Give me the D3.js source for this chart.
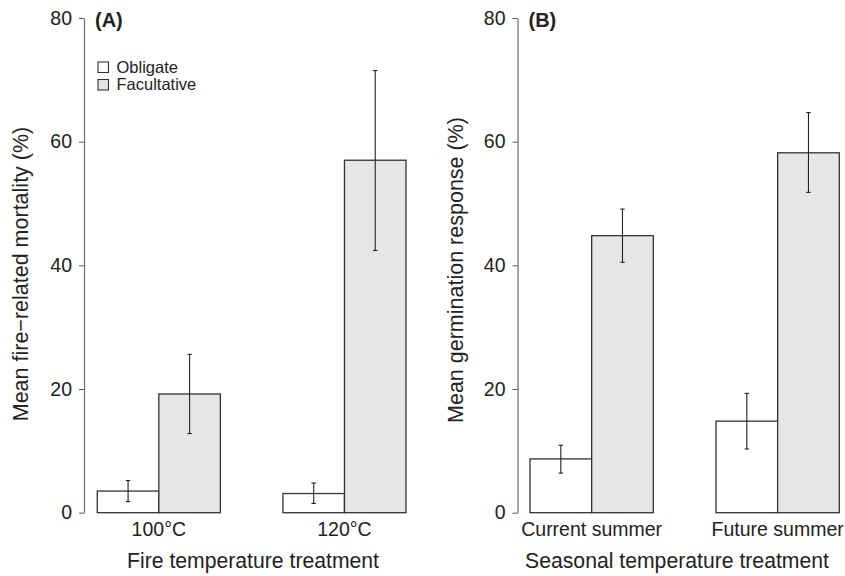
<!DOCTYPE html>
<html>
<head>
<meta charset="utf-8">
<script src="https://cdn.jsdelivr.net/npm/d3@7"></script>
<style>
body { margin: 0; background: #fff; }
text { font-family: "Liberation Sans", Arial, sans-serif; fill: #222; }
</style>
</head>
<body>
<script>
// data
var seriesNames = ["Obligate", "Facultative"];
var seriesFill = ["#ffffff", "#e5e6e8"];

var fireCats = ["100°C", "120°C"];
var fireMean = [[3.5, 19.2], [3.1, 57.0]];
var fireLo = [[1.8, 12.8], [1.5, 42.4]];
var fireHi = [[5.2, 25.6], [4.8, 71.5]];

var seasonCats = ["Current summer", "Future summer"];
var seasonMean = [[8.7, 44.8], [14.8, 58.2]];
var seasonLo = [[6.4, 40.5], [10.3, 51.8]];
var seasonHi = [[10.9, 49.1], [19.3, 64.7]];

var yTicks = [0, 20, 40, 60, 80];

var w = 845, h = 576;

var svg = d3.select("body").append("svg")
    .attr("width", w)
    .attr("height", h);

var y = d3.scaleLinear().domain([0, 80]).range([512.7, 18]);

function panel(opt) {
    var g = svg.append("g");

    var x = d3.scaleBand()
        .domain(opt.cats)
        .range(opt.range)
        .paddingInner(0.337)
        .paddingOuter(0);
    var xs = d3.scaleBand()
        .domain(seriesNames)
        .range([0, x.bandwidth()]);

    // y axis
    var ax = g.append("g")
        .attr("transform", "translate(" + opt.axisX + ",0)")
        .call(d3.axisLeft(y).tickValues(yTicks).tickSize(5).tickSizeOuter(0).tickPadding(7));
    ax.select(".domain").attr("stroke", "#777").attr("stroke-width", 1.3);
    ax.selectAll(".tick line").attr("stroke", "#555");
    ax.selectAll(".tick text")
        .style("font-size", "19.5px")
        .style("font-family", "Liberation Sans, Arial, sans-serif")
        .attr("fill", "#222");

    var rows = [];
    opt.cats.forEach(function(c, i) {
        seriesNames.forEach(function(s, j) {
            rows.push({cat: c, s: s, j: j, v: opt.mean[i][j], lo: opt.lo[i][j], hi: opt.hi[i][j]});
        });
    });

    g.selectAll("rect.bar").data(rows).enter().append("rect")
        .attr("class", "bar")
        .attr("x", function(d) { return x(d.cat) + xs(d.s); })
        .attr("y", function(d) { return y(d.v); })
        .attr("width", xs.bandwidth())
        .attr("height", function(d) { return y(0) - y(d.v); })
        .attr("fill", function(d) { return seriesFill[d.j]; })
        .attr("stroke", "#333")
        .attr("stroke-width", 1.3);

    // error bars
    var eb = g.selectAll("g.err").data(rows).enter().append("g")
        .attr("class", "err")
        .attr("transform", function(d) {
            return "translate(" + (x(d.cat) + xs(d.s) + xs.bandwidth() / 2) + ",0)";
        })
        .attr("stroke", "#222")
        .attr("stroke-width", 1.1);
    eb.append("line")
        .attr("y1", function(d) { return y(d.lo); })
        .attr("y2", function(d) { return y(d.hi); });
    eb.append("line")
        .attr("x1", -2.2).attr("x2", 2.2)
        .attr("y1", function(d) { return y(d.hi); })
        .attr("y2", function(d) { return y(d.hi); });
    eb.append("line")
        .attr("x1", -2.2).attr("x2", 2.2)
        .attr("y1", function(d) { return y(d.lo); })
        .attr("y2", function(d) { return y(d.lo); });

    // category labels
    g.selectAll("text.cat").data(opt.cats).enter().append("text")
        .attr("class", "cat")
        .attr("x", function(d) { return x(d) + x.bandwidth() / 2; })
        .attr("y", 536)
        .attr("text-anchor", "middle")
        .style("font-size", "19.5px")
        .text(function(d) { return d; });

    g.append("text")
        .attr("x", opt.xTitleX)
        .attr("y", 568)
        .attr("text-anchor", "middle")
        .style("font-size", "21.2px")
        .text(opt.xTitle);

    g.append("text")
        .attr("transform", "translate(" + opt.yTitleX + "," + opt.yTitleY + ")rotate(-90)")
        .attr("text-anchor", "middle")
        .style("font-size", "21.5px")
        .text(opt.yTitle);

    g.append("text")
        .attr("x", opt.axisX + 11)
        .attr("y", 27)
        .style("font-size", "20px")
        .style("font-weight", "bold")
        .text(opt.tag);

    return g;
}

var gA = panel({
    cats: fireCats, mean: fireMean, lo: fireLo, hi: fireHi,
    range: [97.3, 406], axisX: 84, tag: "(A)",
    xTitle: "Fire temperature treatment", xTitleX: 253,
    yTitle: "Mean fire\u2212related mortality (%)", yTitleX: 27.5, yTitleY: 274
});

panel({
    cats: seasonCats, mean: seasonMean, lo: seasonLo, hi: seasonHi,
    range: [530, 839.3], axisX: 517.5, tag: "(B)",
    xTitle: "Seasonal temperature treatment", xTitleX: 677,
    yTitle: "Mean germination response (%)", yTitleX: 463, yTitleY: 270
});

// legend in panel A
var leg = gA.selectAll("g.leg").data(seriesNames).enter().append("g")
    .attr("class", "leg")
    .attr("transform", function(d, i) { return "translate(98," + (62 + i * 17.5) + ")"; });
leg.append("rect")
    .attr("width", 10.5).attr("height", 10.5)
    .attr("fill", function(d, i) { return seriesFill[i]; })
    .attr("stroke", "#333")
    .attr("stroke-width", 1.1);
leg.append("text")
    .attr("x", 18.5)
    .attr("y", 10.5)
    .style("font-size", "16.5px")
    .text(function(d) { return d; });
</script>
</body>
</html>
